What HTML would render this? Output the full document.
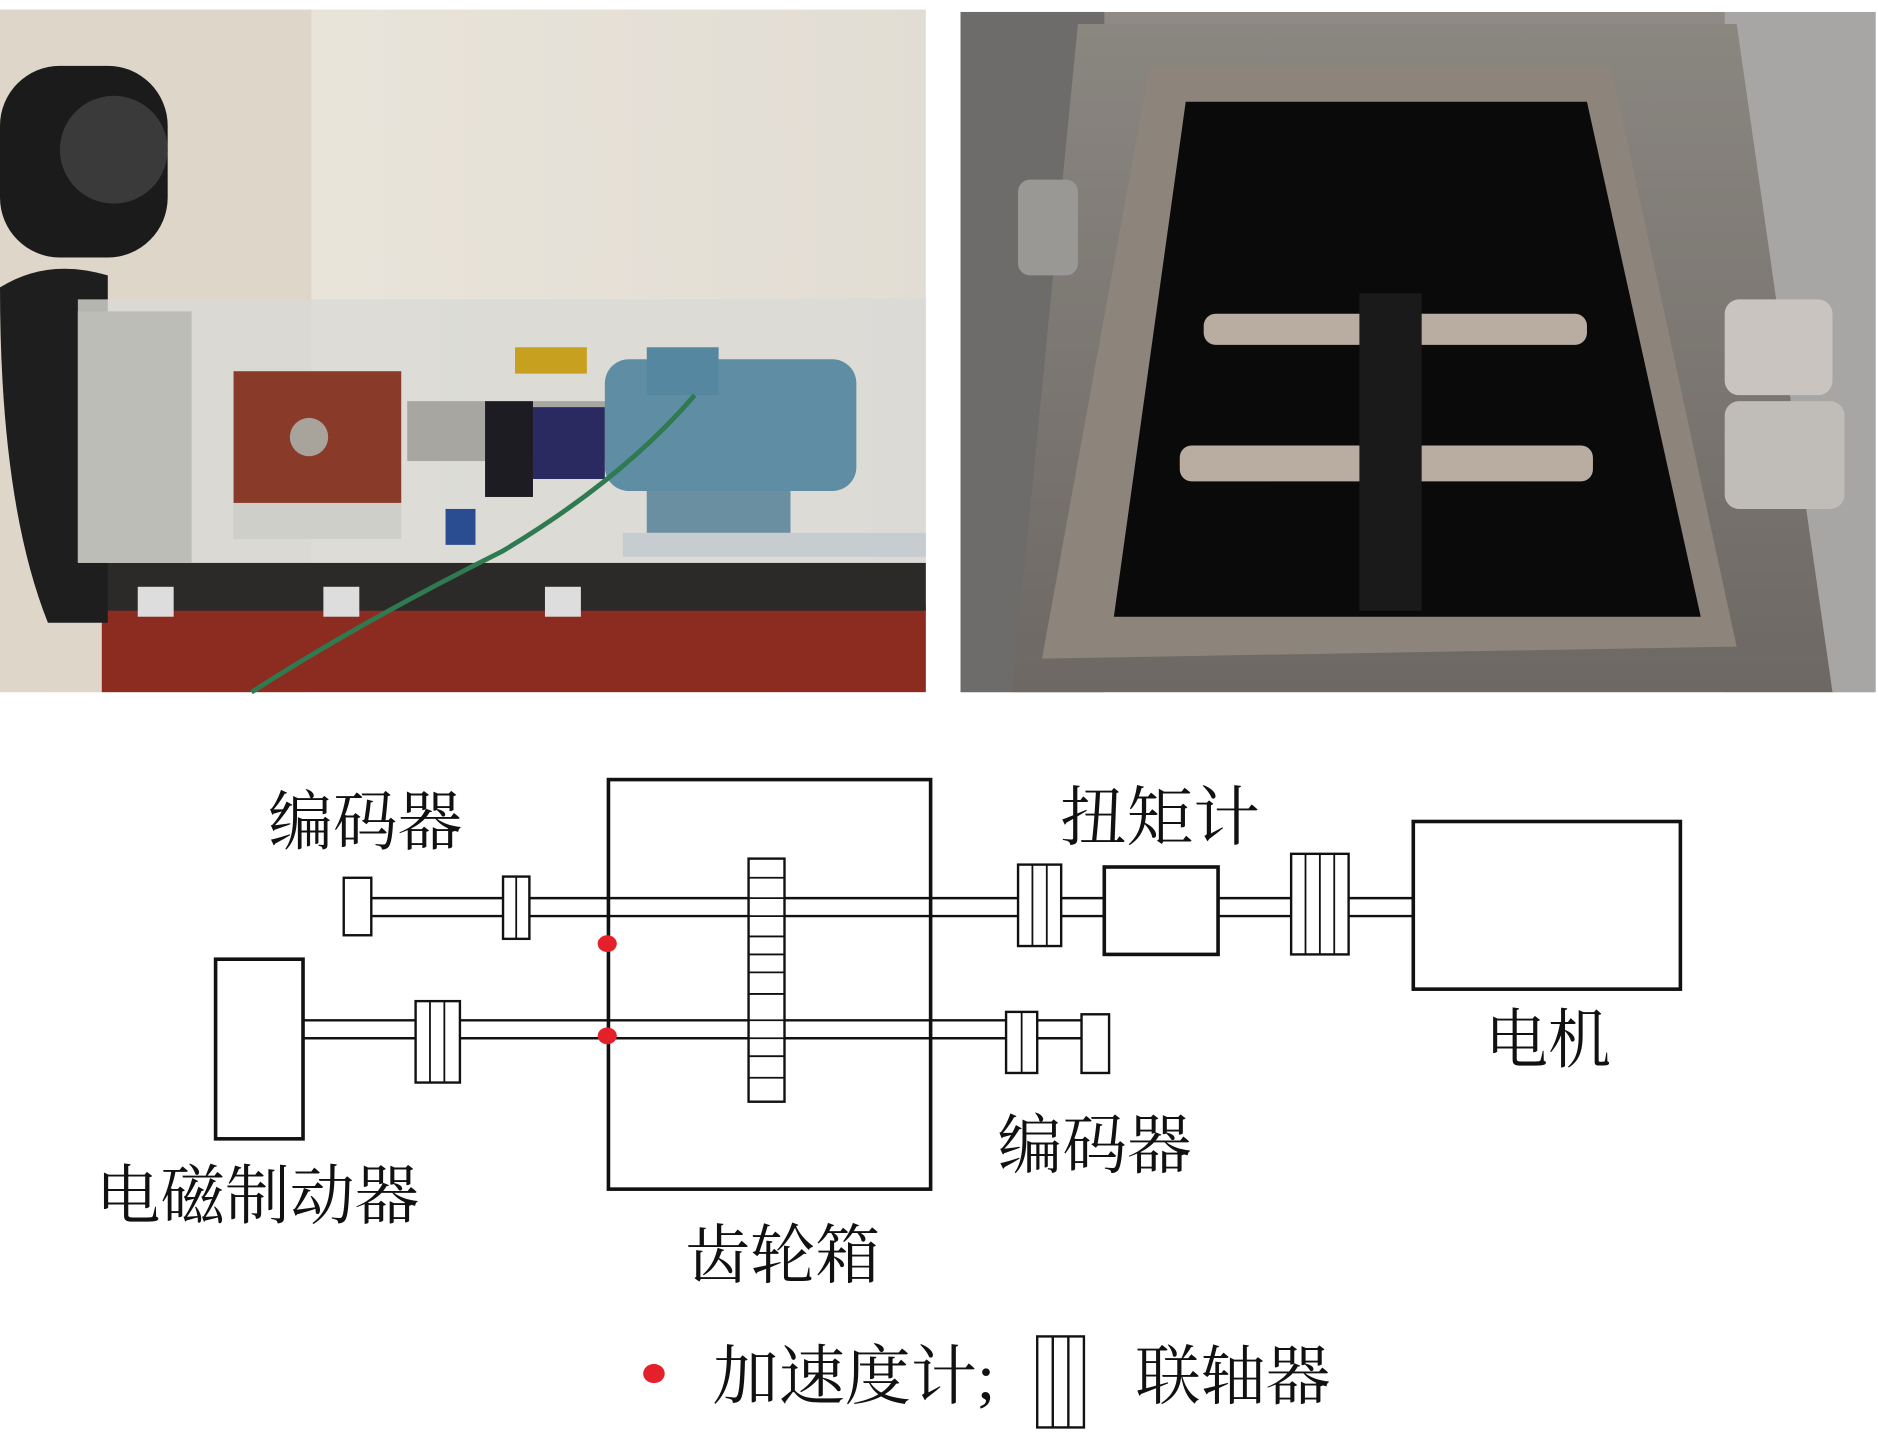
<!DOCTYPE html>
<html><head><meta charset="utf-8"><style>
html,body{margin:0;padding:0;background:#fff;}
svg{display:block;}
text{font-family:"Liberation Serif","Noto Serif CJK SC","Noto Sans CJK SC",serif;fill:#111;}
</style></head><body>
<svg width="1878" height="1443" viewBox="0 0 1568 1205" preserveAspectRatio="none" xmlns="http://www.w3.org/2000/svg">
<defs>
<linearGradient id="wall" x1="0" y1="0" x2="1" y2="0"><stop offset="0" stop-color="#e4ddd0"/><stop offset="0.35" stop-color="#e9e4da"/><stop offset="1" stop-color="#e2ddd4"/></linearGradient>
<linearGradient id="box" x1="0" y1="0" x2="0" y2="1"><stop offset="0" stop-color="#8a8680"/><stop offset="1" stop-color="#6d6863"/></linearGradient>
</defs>
<!-- LEFT PHOTO -->
<rect x="0" y="8" width="773" height="570" fill="url(#wall)"/>
<rect x="0" y="8" width="260" height="570" fill="#ddd6c9"/>
<rect x="85" y="505" width="688" height="73" fill="#8c2c20"/>
<rect x="60" y="470" width="713" height="40" fill="#2c2a28"/>
<rect x="0" y="55" width="140" height="160" rx="50" fill="#1b1b1b"/>
<circle cx="95" cy="125" r="45" fill="#3a3a3a"/>
<path d="M0 240 Q40 215 90 230 L90 520 L40 520 Q0 420 0 240Z" fill="#1e1e1e"/>
<rect x="65" y="250" width="708" height="220" fill="#d9dad6" opacity="0.8"/>
<path d="M65 260 L160 260 L160 470 L65 470Z" fill="#bdbdb8"/>
<rect x="195" y="310" width="140" height="110" fill="#8a3a28"/>
<circle cx="258" cy="365" r="16" fill="#a8a49c"/>
<rect x="195" y="420" width="140" height="30" fill="#cfcfca"/>
<rect x="340" y="335" width="170" height="50" fill="#a7a6a0"/>
<rect x="405" y="335" width="40" height="80" fill="#1c1c22"/>
<rect x="445" y="340" width="60" height="60" fill="#2a2a60"/>
<rect x="505" y="300" width="210" height="110" rx="20" fill="#5f8ea4"/>
<rect x="540" y="290" width="60" height="40" fill="#5587a0"/>
<rect x="540" y="410" width="120" height="35" fill="#6a8fa0"/>
<rect x="520" y="445" width="253" height="20" fill="#c7ccd0"/>
<rect x="430" y="290" width="60" height="22" fill="#c8a020"/>
<rect x="372" y="425" width="25" height="30" fill="#2a4c90"/>
<path d="M210 578 Q300 520 420 460 Q520 400 580 330" stroke="#2f7a50" stroke-width="4" fill="none"/>
<rect x="115" y="490" width="30" height="25" fill="#ddd"/><rect x="270" y="490" width="30" height="25" fill="#ddd"/><rect x="455" y="490" width="30" height="25" fill="#ddd"/>
<!-- RIGHT PHOTO -->
<rect x="802" y="10" width="764" height="568" fill="#8f8a85"/>
<rect x="802" y="10" width="120" height="568" fill="#6e6c6a"/>
<rect x="1440" y="10" width="126" height="568" fill="#a8a6a4"/>
<path d="M900 20 L1450 20 L1530 578 L845 578Z" fill="url(#box)"/>
<path d="M960 55 L1345 55 L1450 540 L870 550Z" fill="#8d847c"/>
<path d="M990 85 L1325 85 L1420 515 L930 515Z" fill="#0a0a0a"/>
<rect x="1005" y="262" width="320" height="26" rx="10" fill="#b8ada0"/>
<rect x="985" y="372" width="345" height="30" rx="10" fill="#b8ada0"/>
<rect x="1135" y="245" width="52" height="265" fill="#1a1a1a"/>
<rect x="1440" y="250" width="90" height="80" rx="12" fill="#c9c4c0"/>
<rect x="1440" y="335" width="100" height="90" rx="12" fill="#c0bcb8"/>
<rect x="850" y="150" width="50" height="80" rx="10" fill="#9a9894"/>
<!-- DIAGRAM -->
<g stroke="#111" fill="none">
<rect x="508" y="651" width="269" height="342" stroke-width="3"/>
<line x1="310" y1="750" x2="1180" y2="750" stroke-width="2"/>
<line x1="310" y1="765" x2="1180" y2="765" stroke-width="2"/>
<line x1="254" y1="852" x2="905" y2="852" stroke-width="2"/>
<line x1="254" y1="867" x2="905" y2="867" stroke-width="2"/>
</g>
<g stroke="#111" fill="#fff" stroke-width="2">
<rect x="625" y="717" width="30" height="203"/>
<rect x="287" y="733" width="23" height="48"/>
<rect x="420" y="732" width="22" height="52"/>
<rect x="850" y="722" width="36" height="68"/>
<rect x="922" y="724" width="95" height="73" stroke-width="3"/>
<rect x="1078" y="713" width="48" height="84"/>
<rect x="1180" y="686" width="223" height="140" stroke-width="3"/>
<rect x="180" y="801" width="73" height="150" stroke-width="3"/>
<rect x="347" y="836" width="37" height="68"/>
<rect x="840" y="845" width="26" height="51"/>
<rect x="903" y="847" width="23" height="49"/>
</g>
<g stroke="#111" stroke-width="1.5">
<line x1="431" y1="732" x2="431" y2="784"/>
<line x1="862" y1="722" x2="862" y2="790"/><line x1="874" y1="722" x2="874" y2="790"/>
<line x1="1090" y1="713" x2="1090" y2="797"/><line x1="1102" y1="713" x2="1102" y2="797"/><line x1="1114" y1="713" x2="1114" y2="797"/>
<line x1="359" y1="836" x2="359" y2="904"/><line x1="371" y1="836" x2="371" y2="904"/>
<line x1="853" y1="845" x2="853" y2="896"/>
<line x1="625" y1="733" x2="655" y2="733"/><line x1="625" y1="750" x2="655" y2="750"/><line x1="625" y1="765" x2="655" y2="765"/>
<line x1="625" y1="782" x2="655" y2="782"/><line x1="625" y1="797" x2="655" y2="797"/><line x1="625" y1="812" x2="655" y2="812"/>
<line x1="625" y1="830" x2="655" y2="830"/><line x1="625" y1="852" x2="655" y2="852"/><line x1="625" y1="867" x2="655" y2="867"/>
<line x1="625" y1="882" x2="655" y2="882"/><line x1="625" y1="900" x2="655" y2="900"/>
</g>
<ellipse cx="507" cy="788" rx="8" ry="7" fill="#e4212a"/>
<ellipse cx="507" cy="865" rx="8" ry="7" fill="#e4212a"/>
<g font-size="54">
<text x="224" y="705" textLength="162" lengthAdjust="spacingAndGlyphs">编码器</text>
<text x="885" y="701" textLength="167" lengthAdjust="spacingAndGlyphs">扭矩计</text>
<text x="1240" y="887" textLength="105" lengthAdjust="spacingAndGlyphs">电机</text>
<text x="833" y="975" textLength="162" lengthAdjust="spacingAndGlyphs">编码器</text>
<text x="80" y="1017" textLength="270" lengthAdjust="spacingAndGlyphs">电磁制动器</text>
<text x="572" y="1067" textLength="163" lengthAdjust="spacingAndGlyphs">齿轮箱</text>
<text x="595" y="1168" textLength="236" lengthAdjust="spacingAndGlyphs">加速度计;</text>
<text x="948" y="1168" textLength="163" lengthAdjust="spacingAndGlyphs">联轴器</text>
</g>
<ellipse cx="546" cy="1147" rx="9" ry="8" fill="#e4212a"/>
<g stroke="#111" stroke-width="2" fill="#fff">
<rect x="866" y="1116" width="39" height="76"/>
<line x1="879" y1="1116" x2="879" y2="1192"/><line x1="892" y1="1116" x2="892" y2="1192"/>
</g>
</svg>
</body></html>
